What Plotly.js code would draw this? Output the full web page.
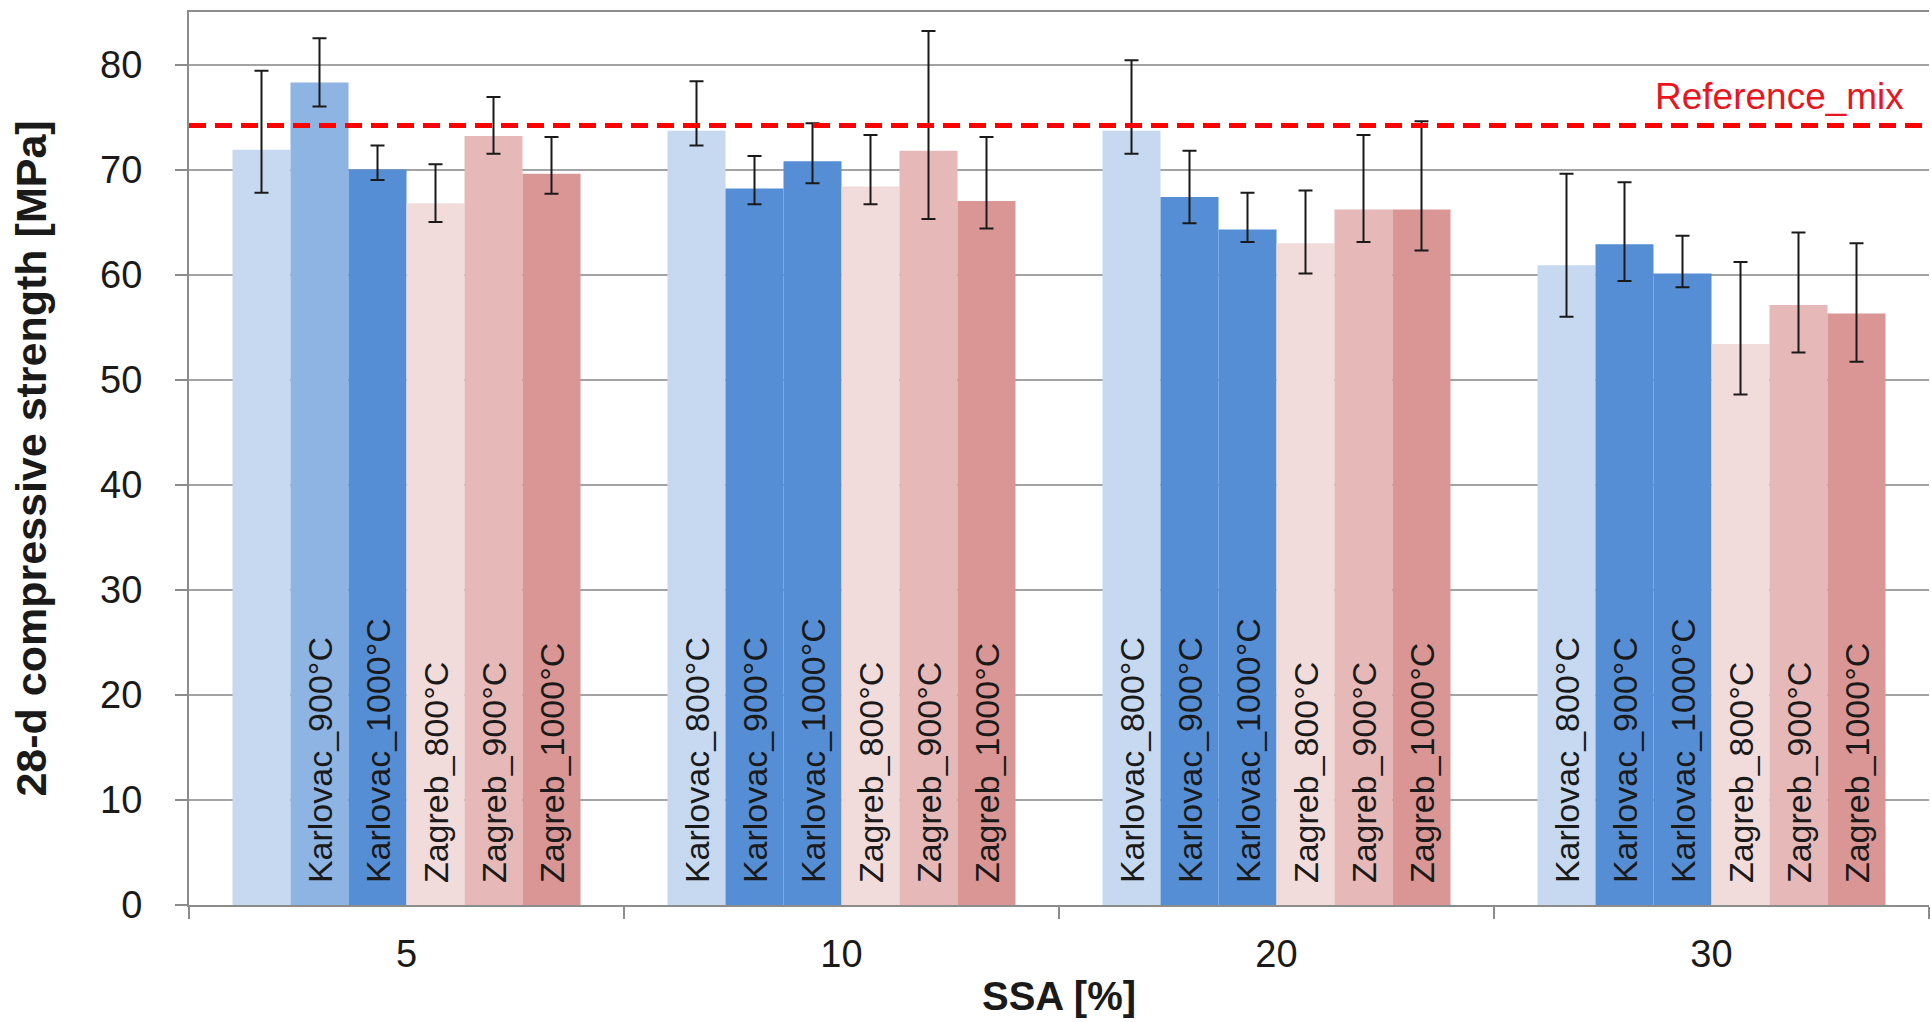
<!DOCTYPE html>
<html><head><meta charset="utf-8">
<script src="https://cdn.plot.ly/plotly-3.0.1.min.js"></script>
<style>html,body{margin:0;padding:0;background:#fff}#chart{width:1931px;height:1022px}</style>
</head><body><div id="chart"></div>
<script>
// SSA replacement levels (x categories)
const categories = ['5', '10', '20', '30'];

// series names
const seriesNames = ['Karlovac_800°C', 'Karlovac_900°C', 'Karlovac_1000°C', 'Zagreb_800°C', 'Zagreb_900°C', 'Zagreb_1000°C'];

// 28-d compressive strength means [MPa]
const karlovac800 = [71.9, 73.7, 73.7, 60.9];
const karlovac900 = [78.3, 68.2, 67.4, 62.9];
const karlovac1000 = [70.0, 70.8, 64.3, 60.1];
const zagreb800 = [66.8, 68.4, 63.0, 53.4];
const zagreb900 = [73.2, 71.8, 66.2, 57.1];
const zagreb1000 = [69.6, 67.0, 66.2, 56.3];

// error bar upper / lower ends [MPa]
const karlovac800Hi = [79.4, 78.4, 80.4, 69.6];
const karlovac800Lo = [67.8, 72.3, 71.5, 56.0];
const karlovac900Hi = [82.5, 71.3, 71.8, 68.8];
const karlovac900Lo = [76.0, 66.7, 64.9, 59.4];
const karlovac1000Hi = [72.3, 74.4, 67.8, 63.7];
const karlovac1000Lo = [69.0, 68.7, 63.1, 58.8];
const zagreb800Hi = [70.5, 73.3, 68.0, 61.2];
const zagreb800Lo = [65.0, 66.7, 60.1, 48.6];
const zagreb900Hi = [76.9, 83.2, 73.3, 64.0];
const zagreb900Lo = [71.5, 65.3, 63.1, 52.6];
const zagreb1000Hi = [73.1, 73.1, 74.6, 63.0];
const zagreb1000Lo = [67.7, 64.4, 62.3, 51.7];

// which bars carry an in-bar label (first Karlovac_800 bar has none)
const karlovac800Labelled = [false, true, true, true];

// reference mix strength [MPa]
const referenceMix = [74.2];
const referenceLabel = 'Reference_mix';

const axisTitleX = 'SSA [%]';
const axisTitleY = '28-d compressive strength [MPa]';

// ---- styling ----
const colors = {
  k800: '#C6D9F1',
  k900: ['#8DB4E3', '#558ED5', '#558ED5', '#558ED5'],
  k1000: '#558ED5',
  z800: '#F2DCDB',
  z900: '#E6B9B8',
  z1000: '#D99694'
};

const values = [karlovac800, karlovac900, karlovac1000, zagreb800, zagreb900, zagreb1000];
const his = [karlovac800Hi, karlovac900Hi, karlovac1000Hi, zagreb800Hi, zagreb900Hi, zagreb1000Hi];
const los = [karlovac800Lo, karlovac900Lo, karlovac1000Lo, zagreb800Lo, zagreb900Lo, zagreb1000Lo];
const fills = [colors.k800, colors.k900, colors.k1000, colors.z800, colors.z900, colors.z1000];

const pad = '\u00a0\u00a0';
const traces = values.map((v, i) => {
  const text = categories.map((c, j) => (i === 0 && !karlovac800Labelled[j]) ? '' : pad + seriesNames[i]);
  return {
    type: 'bar',
    name: seriesNames[i],
    x: categories,
    y: v,
    marker: {color: fills[i], line: {width: 0}},
    text: text,
    textposition: 'inside',
    insidetextanchor: 'start',
    textangle: -90,
    constraintext: 'none',
    insidetextfont: {family: 'Liberation Sans, Arial, sans-serif', size: 34, color: '#1a1a1a'},
    hoverinfo: 'x+y+name',
    error_y: {
      type: 'data',
      symmetric: false,
      array: v.map((y, j) => his[i][j] - y),
      arrayminus: v.map((y, j) => y - los[i][j]),
      color: '#1a1a1a',
      thickness: 2,
      width: 7
    }
  };
});

const layout = {
  width: 1931,
  height: 1022,
  margin: {l: 189, r: 2, t: 12, b: 117},
  paper_bgcolor: '#ffffff',
  plot_bgcolor: '#ffffff',
  barmode: 'group',
  bargap: 0.2,
  bargroupgap: 0,
  showlegend: false,
  font: {family: 'Liberation Sans, Arial, sans-serif', color: '#1a1a1a'},
  xaxis: {
    type: 'category',
    tickson: 'boundaries',
    ticks: 'outside',
    ticklen: 12,
    tickwidth: 2,
    tickcolor: '#8c8c8c',
    showline: true,
    linecolor: '#8c8c8c',
    linewidth: 2,
    mirror: true,
    showgrid: false,
    zeroline: false,
    tickfont: {size: 38, color: '#1a1a1a'},
    ticklabelstandoff: 14,
    automargin: false,
    title: {text: '<b>' + axisTitleX + '</b>', font: {size: 40, color: '#1a1a1a'}, standoff: 8}
  },
  yaxis: {
    range: [0, 85],
    tick0: 0,
    dtick: 10,
    ticks: 'outside',
    ticklen: 12,
    tickwidth: 2,
    tickcolor: '#8c8c8c',
    showline: true,
    linecolor: '#8c8c8c',
    linewidth: 2,
    showgrid: true,
    gridcolor: '#a3a3a3',
    gridwidth: 2,
    zeroline: false,
    tickfont: {size: 38, color: '#1a1a1a'},
    ticklabelstandoff: 25,
    automargin: false,
    title: {text: '<b>' + axisTitleY + '</b>', font: {size: 43, color: '#1a1a1a'}, standoff: 40}
  },
  shapes: [{
    type: 'line',
    xref: 'paper', x0: 0, x1: 1,
    yref: 'y', y0: referenceMix[0], y1: referenceMix[0],
    line: {color: '#ff0000', width: 5, dash: '17px,9px'},
    layer: 'above'
  }],
  annotations: [{
    xref: 'paper', x: 0.9868, xanchor: 'right',
    yref: 'y', y: referenceMix[0], yanchor: 'bottom', yshift: 6,
    text: referenceLabel,
    showarrow: false,
    font: {family: 'Liberation Sans, Arial, sans-serif', size: 37, color: '#e8161f'}
  }]
};

Plotly.newPlot('chart', traces, layout, {displayModeBar: false, staticPlot: true});
</script>
</body></html>
